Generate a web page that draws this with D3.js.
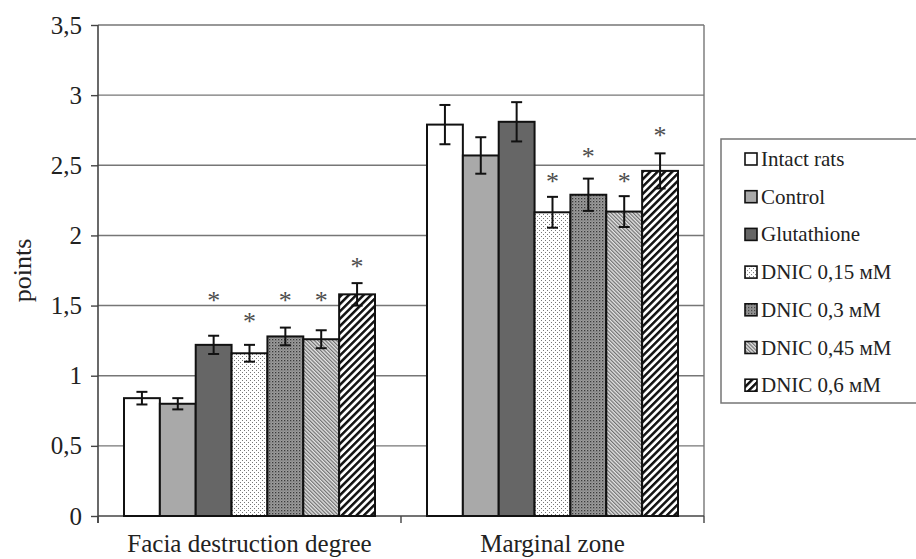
<!DOCTYPE html>
<html>
<head>
<meta charset="utf-8">
<script src="https://cdn.jsdelivr.net/npm/d3@7"></script>
<style>
  body { margin: 0; background: #fff; }
  text { font-family: "Liberation Serif", "Times New Roman", serif; fill: #222; }
</style>
</head>
<body>
<div id="chart"></div>
<script>
// ── data ──────────────────────────────────────
const categories = ["Facia destruction degree", "Marginal zone"];
const series = ["Intact rats", "Control", "Glutathione", "DNIC 0,15 мМ", "DNIC 0,3 мМ", "DNIC 0,45 мМ", "DNIC 0,6 мМ"];
const faciaValues = [0.84, 0.80, 1.22, 1.16, 1.28, 1.26, 1.58];
const faciaErrors = [0.045, 0.04, 0.065, 0.06, 0.063, 0.064, 0.08];
const marginalValues = [2.79, 2.57, 2.81, 2.165, 2.29, 2.17, 2.46];
const marginalErrors = [0.14, 0.13, 0.14, 0.11, 0.115, 0.11, 0.125];
// level (in points) where the significance asterisk sits, null = none
const faciaStars = [null, null, 1.57, 1.42, 1.57, 1.57, 1.81];
const marginalStars = [null, null, null, 2.42, 2.595, 2.42, 2.745];
const yTicks = [0, 0.5, 1, 1.5, 2, 2.5, 3, 3.5];

const rows = [
  { cat: categories[0], values: faciaValues, errors: faciaErrors, stars: faciaStars },
  { cat: categories[1], values: marginalValues, errors: marginalErrors, stars: marginalStars }
];

// ── layout ────────────────────────────────────
const W = 916, H = 559;
const plotL = 98, plotR = 704, plotT = 25, plotB = 516;
const serif = '"Liberation Serif", "Times New Roman", serif';

const svg = d3.select("#chart").append("svg")
  .attr("width", W).attr("height", H);

const defs = svg.append("defs");

// sparse dots (DNIC 0,15)
const p1 = defs.append("pattern").attr("id", "dots")
  .attr("width", 4).attr("height", 4).attr("patternUnits", "userSpaceOnUse");
p1.append("rect").attr("width", 4).attr("height", 4).attr("fill", "#fff");
p1.append("rect").attr("x", 0).attr("y", 0).attr("width", 1).attr("height", 1).attr("fill", "#777");
p1.append("rect").attr("x", 2).attr("y", 2).attr("width", 1).attr("height", 1).attr("fill", "#777");

// dense dark texture (DNIC 0,3)
const p2 = defs.append("pattern").attr("id", "dense")
  .attr("width", 3).attr("height", 3).attr("patternUnits", "userSpaceOnUse");
p2.append("rect").attr("width", 3).attr("height", 3).attr("fill", "#9c9c9c");
p2.append("rect").attr("width", 1.3).attr("height", 1.3).attr("fill", "#3a3a3a");
p2.append("rect").attr("x", 1.5).attr("y", 1.5).attr("width", 1).attr("height", 1).attr("fill", "#666");

// fine back-diagonal lines (DNIC 0,45)
const p3 = defs.append("pattern").attr("id", "fine")
  .attr("width", 2.6).attr("height", 10).attr("patternUnits", "userSpaceOnUse")
  .attr("patternTransform", "rotate(-45)");
p3.append("rect").attr("width", 2.6).attr("height", 10).attr("fill", "#e4e4e4");
p3.append("rect").attr("width", 1.2).attr("height", 10).attr("fill", "#707070");

// wide diagonal stripes (DNIC 0,6)
const p4 = defs.append("pattern").attr("id", "wide")
  .attr("width", 5.2).attr("height", 10).attr("patternUnits", "userSpaceOnUse")
  .attr("patternTransform", "rotate(45)");
p4.append("rect").attr("width", 5.2).attr("height", 10).attr("fill", "#fff");
p4.append("rect").attr("width", 2.5).attr("height", 10).attr("fill", "#111");

const fills = d3.scaleOrdinal()
  .domain(series)
  .range(["#ffffff", "#a9a9a9", "#666666", "url(#dots)", "url(#dense)", "url(#fine)", "url(#wide)"]);

const y = d3.scaleLinear().domain([0, 3.5]).range([plotB, plotT]);
const x0 = d3.scaleBand().domain(categories).range([plotL, plotR]).padding(0);
const x1 = d3.scaleBand().domain(series).range([26, x0.bandwidth() - 26]).padding(0);

const fmt = d3.formatLocale({ decimal: ",", thousands: " ", grouping: [3], currency: ["", ""] }).format(".1~f");

// grid lines
svg.append("g").selectAll("line")
  .data(yTicks.filter(d => d > 0))
  .join("line")
  .attr("x1", plotL).attr("x2", plotR)
  .attr("y1", d => y(d)).attr("y2", d => y(d))
  .attr("stroke", "#767676").attr("stroke-width", 1.4);

// right border of plot area
svg.append("line")
  .attr("x1", plotR).attr("x2", plotR)
  .attr("y1", plotT).attr("y2", plotB)
  .attr("stroke", "#767676").attr("stroke-width", 1.4);

// y axis
const yAxis = svg.append("g")
  .attr("transform", `translate(${plotL},0)`)
  .call(d3.axisLeft(y).tickValues(yTicks).tickSize(7).tickSizeOuter(0).tickFormat(fmt));
yAxis.select(".domain").remove();
yAxis.selectAll(".tick line").attr("stroke", "#444").attr("stroke-width", 1.4);
yAxis.selectAll(".tick text")
  .attr("x", -16)
  .style("font-size", "25px")
  .style("font-family", serif)
  .attr("fill", "#222");
svg.append("line")
  .attr("x1", plotL).attr("x2", plotL)
  .attr("y1", plotT).attr("y2", plotB + 7)
  .attr("stroke", "#444").attr("stroke-width", 1.6);

// x axis
svg.append("line")
  .attr("x1", plotL).attr("x2", plotR)
  .attr("y1", plotB).attr("y2", plotB)
  .attr("stroke", "#444").attr("stroke-width", 1.6);
svg.append("g").selectAll("line")
  .data(categories.map(c => x0(c)).concat([plotR]))
  .join("line")
  .attr("x1", d => d).attr("x2", d => d)
  .attr("y1", plotB).attr("y2", plotB + 7)
  .attr("stroke", "#444").attr("stroke-width", 1.4);

svg.append("g").selectAll("text")
  .data(categories)
  .join("text")
  .attr("x", d => x0(d) + x0.bandwidth() / 2)
  .attr("y", 552)
  .attr("text-anchor", "middle")
  .style("font-size", "25px")
  .text(d => d);

// y label
svg.append("text")
  .attr("transform", `translate(31,${(plotT + plotB) / 2}) rotate(-90)`)
  .attr("text-anchor", "middle")
  .style("font-size", "26px")
  .text("points");

// bars
const groups = svg.append("g").selectAll("g")
  .data(rows)
  .join("g")
  .attr("transform", d => `translate(${x0(d.cat)},0)`);

const items = groups.selectAll("g")
  .data(d => series.map((s, i) => ({ s, v: d.values[i], e: d.errors[i], star: d.stars[i] })))
  .join("g");

items.append("rect")
  .attr("x", d => x1(d.s))
  .attr("y", d => y(d.v))
  .attr("width", x1.bandwidth())
  .attr("height", d => y(0) - y(d.v))
  .attr("fill", d => fills(d.s))
  .attr("stroke", "#111")
  .attr("stroke-width", 2);

// error bars
const cap = 5.5;
items.append("line")
  .attr("x1", d => x1(d.s) + x1.bandwidth() / 2)
  .attr("x2", d => x1(d.s) + x1.bandwidth() / 2)
  .attr("y1", d => y(d.v + d.e)).attr("y2", d => y(d.v - d.e))
  .attr("stroke", "#111").attr("stroke-width", 2);
items.append("line")
  .attr("x1", d => x1(d.s) + x1.bandwidth() / 2 - cap)
  .attr("x2", d => x1(d.s) + x1.bandwidth() / 2 + cap)
  .attr("y1", d => y(d.v + d.e)).attr("y2", d => y(d.v + d.e))
  .attr("stroke", "#111").attr("stroke-width", 2);
items.append("line")
  .attr("x1", d => x1(d.s) + x1.bandwidth() / 2 - cap)
  .attr("x2", d => x1(d.s) + x1.bandwidth() / 2 + cap)
  .attr("y1", d => y(d.v - d.e)).attr("y2", d => y(d.v - d.e))
  .attr("stroke", "#111").attr("stroke-width", 2);

// asterisks
items.filter(d => d.star != null)
  .append("text")
  .attr("x", d => x1(d.s) + x1.bandwidth() / 2)
  .attr("y", d => y(d.star) + 13)
  .attr("text-anchor", "middle")
  .style("font-size", "26px")
  .style("fill", "#4d4d4d")
  .text("*");

// legend
const legend = svg.append("g");
legend.append("rect")
  .attr("x", 721).attr("y", 139)
  .attr("width", 220).attr("height", 264)
  .attr("fill", "#fff")
  .attr("stroke", "#767676").attr("stroke-width", 1.5);

const li = legend.selectAll("g.item")
  .data(series)
  .join("g")
  .attr("class", "item")
  .attr("transform", (d, i) => `translate(745,${159 + i * 37.7})`);
li.append("rect")
  .attr("x", 0).attr("y", -6)
  .attr("width", 12).attr("height", 12)
  .attr("fill", d => fills(d))
  .attr("stroke", "#111").attr("stroke-width", 1.6);
li.append("text")
  .attr("x", 16).attr("y", 7)
  .style("font-size", "21px")
  .text(d => d);
</script>
</body>
</html>
